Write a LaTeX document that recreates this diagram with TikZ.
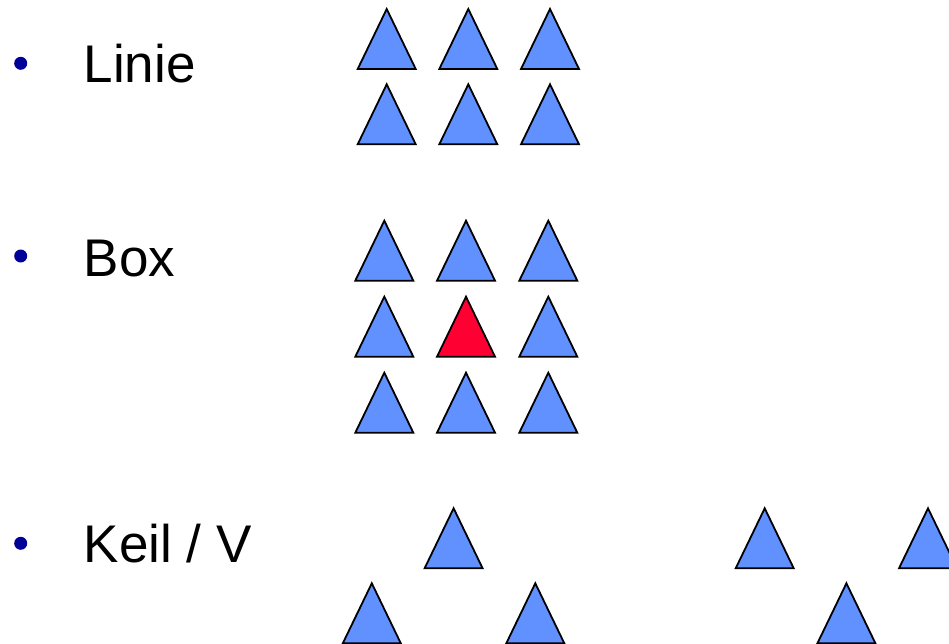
\documentclass[tikz,border=0pt]{standalone}
\usepackage{fontspec}
\setmainfont{Liberation Sans}
\definecolor{triblue}{HTML}{6191FF}
\definecolor{trired}{HTML}{FF0033}
\definecolor{bulletblue}{HTML}{000099}
\begin{document}
\begin{tikzpicture}[x=1pt,y=-1pt,
  pics/tri/.style={code={\draw[line width=1.8pt,line join=miter,fill=#1] (0,0) -- (29,60) -- (-29,60) -- cycle;}},
  pics/tri/.default=triblue,
  label/.style={anchor=base west,inner sep=0pt,font=\fontsize{53}{60}\selectfont},
  bul/.style={circle,fill=bulletblue,minimum size=13pt,inner sep=0pt}]
\useasboundingbox (0,0) rectangle (949,644);
\clip (0,0) rectangle (949,644);
% bullets and labels
\node[bul] (b1) at (20.7,63.3) {};
\node[label] (t1) at (83.5,83) {Linie};
\node[bul] (b2) at (20.7,256) {};
\node[label] (t2) at (83.5,276) {Box};
\node[bul] (b3) at (20.7,543.3) {};
\node[label] (t3) at (83.5,562.7) {Keil / V};
% Linie
\foreach \x in {386.7,468.3,550}{
  \pic at (\x,9) {tri};
  \pic at (\x,84.3) {tri};
}
% Box
\foreach \x in {384.3,466,548.3}{
  \pic at (\x,220.7) {tri};
  \pic at (\x,372.7) {tri};
}
\pic at (384.3,296.7) {tri};
\pic at (466,296.7) {tri=trired};
\pic at (548.3,296.7) {tri};
% Keil / V
\foreach \x in {453.6,764.7,928}{\pic at (\x,508.3) {tri};}
\foreach \x in {371.8,535.3,846.4}{\pic at (\x,583.3) {tri};}
\end{tikzpicture}
\end{document}
